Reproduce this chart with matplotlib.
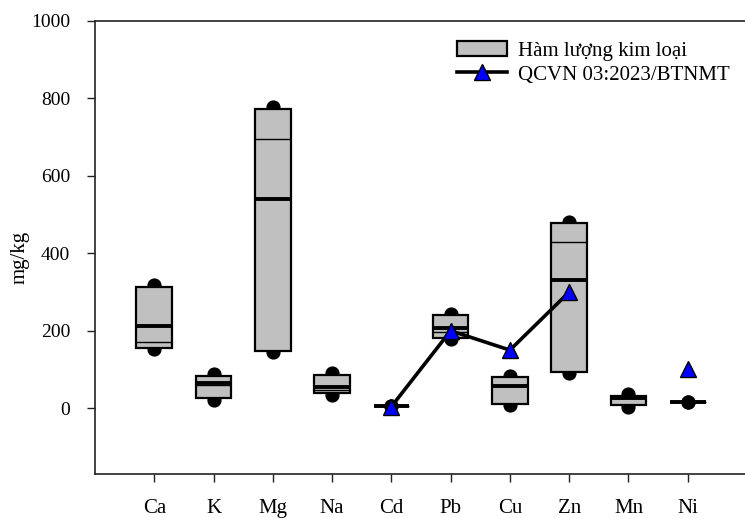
import numpy as np
import matplotlib
matplotlib.use("Agg")
import matplotlib.pyplot as plt
from matplotlib.patches import Patch
from matplotlib.lines import Line2D

# Metal content per element (mg/kg)
elements = ["Ca", "K", "Mg", "Na", "Cd", "Pb", "Cu", "Zn", "Mn", "Ni"]
q1 = [156, 26, 148, 38, 5, 180, 11, 93, 8, 15]
q3 = [313, 84, 773, 85, 5, 240, 80, 478, 32, 15]
median = [170, 60, 694, 46, 5, 197, 57, 428, 30, 15]
mean = [213, 65, 539, 55, 5, 206, 57, 332, 26, 15]
vmin = [152, 22, 145, 33, 5, 178, 8, 90, 3, 15]
vmax = [318, 88, 778, 90, 5, 244, 82, 482, 36, 15]

# QCVN 03:2023/BTNMT limits (only for the regulated metals)
qcvn = [np.nan, np.nan, np.nan, np.nan, 4, 200, 150, 300, np.nan, 100]

plt.rcParams["font.family"] = ["Liberation Serif", "DejaVu Serif"]
plt.rcParams["font.size"] = 15

fig = plt.figure(figsize=(7.45, 5.18), dpi=100)
ax = fig.add_axes([95 / 745, 1 - 474 / 518, 652 / 745, 453 / 518])

x = np.arange(1, len(elements) + 1)
w = 0.6

# min / max dots sit behind the boxes
ax.scatter(x, vmin, s=85, color="black", zorder=1)
ax.scatter(x, vmax, s=85, color="black", zorder=1)

ax.bar(x, np.array(q3) - np.array(q1), bottom=q1, width=w,
       color="#c0c0c0", edgecolor="black", linewidth=1.6, zorder=2)
ax.hlines(median, x - w / 2, x + w / 2, color="black", linewidth=1.0, zorder=3)
ax.hlines(mean, x - w / 2, x + w / 2, color="black", linewidth=2.8, zorder=3)

ax.plot(x, qcvn, color="black", linewidth=2.6, marker="^", markersize=12,
        markerfacecolor="#0000ff", markeredgecolor="black", markeredgewidth=1.0, zorder=4)

ax.set_xlim(0, 11)
ax.set_ylim(-170, 1000)
ax.set_xticks(x)
ax.set_xticklabels(elements, fontsize=15)
ax.set_yticks([0, 200, 400, 600, 800, 1000])

for s in ["left", "bottom", "top"]:
    ax.spines[s].set_linewidth(1.2)
    ax.spines[s].set_color("#222222")
ax.spines["right"].set_visible(False)
ax.tick_params(axis="both", direction="out", length=6, width=1.0, color="#222222")
ax.tick_params(axis="y", pad=12, labelsize=14)
ax.tick_params(axis="x", pad=12)

fig.text(20 / 745, 1 - 257 / 518, "mg/kg", rotation=90, ha="center", va="center", fontsize=15)

handles = [
    Patch(facecolor="#c0c0c0", edgecolor="black", linewidth=1.6),
    Line2D([], [], color="black", linewidth=2.6, marker="^", markersize=12,
           markerfacecolor="#0000ff", markeredgecolor="black"),
]
fig.legend(handles, ["Hàm lượng kim loại", "QCVN 03:2023/BTNMT"],
           loc="upper left", bbox_to_anchor=(457 / 745, 1 - 41 / 518),
           frameon=False, borderpad=0, borderaxespad=0, handlelength=2.4,
           handleheight=0.7, handletextpad=0.53, labelspacing=0.22, fontsize=15)

fig.savefig("out.png", dpi=100)
